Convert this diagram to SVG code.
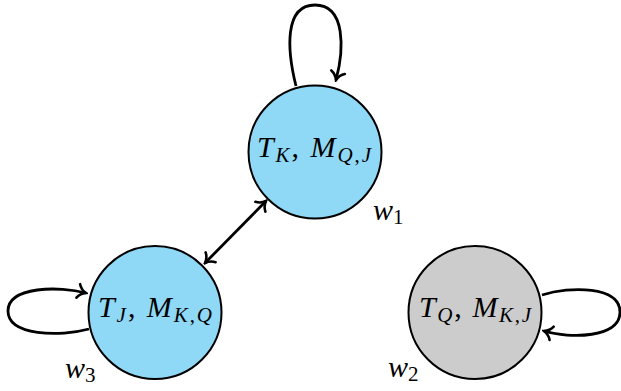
<svg xmlns="http://www.w3.org/2000/svg" width="621" height="391" viewBox="0 0 621 391">
<defs>
<style>
.node{stroke:#000;stroke-width:2}
.blue{fill:#8fd8f6}
.gray{fill:#cccccc}
.edge{fill:none;stroke:#000;stroke-width:2.8}
.lbl{font-family:"Liberation Serif","Times New Roman",serif;font-style:italic;font-size:30px;fill:#000}
.sub{font-size:21px}
.up{font-style:normal}
</style>
<marker id="arr" viewBox="-12 -9 14 18" markerWidth="14" markerHeight="18" refX="0" refY="0" orient="auto-start-reverse" markerUnits="userSpaceOnUse">
<path d="M-8,-7 C-6,-3 -2.5,-0.9 0,0 C-2.5,0.9 -6,3 -8,7" fill="none" stroke="#000" stroke-width="2.6" stroke-linecap="round"/>
</marker>
</defs>
<rect width="621" height="391" fill="#fff"/>
<g id="connectors">
<path class="edge" d="M296,86 C287,50 284,5 315,5 C346,5 344,50 336,80" marker-end="url(#arr)"/>
<path class="edge" d="M89,329 C60,337 8,336 8,311 C8,286 60,286 86,293" marker-end="url(#arr)"/>
<path class="edge" d="M542,295 C570,286 620,286 620,312 C620,338 570,339 544,331" marker-end="url(#arr)"/>
<path class="edge" d="M266,201 L205,263" marker-start="url(#arr)" marker-end="url(#arr)"/>
</g>
<g id="w1">
<circle class="node blue" cx="315" cy="152" r="66.5"/>
<text class="lbl" x="257" y="157" textLength="114" lengthAdjust="spacing">T<tspan class="sub" dy="5">K</tspan><tspan class="up" dy="-5">, </tspan>M<tspan class="sub" dy="5">Q<tspan class="up">,</tspan>J</tspan></text>
<text class="lbl" x="373" y="220">w<tspan class="sub up" dy="4">1</tspan></text>
</g>
<g id="w3">
<circle class="node blue" cx="155" cy="312.5" r="66.5"/>
<text class="lbl" x="98" y="317" textLength="114" lengthAdjust="spacing">T<tspan class="sub" dy="5">J</tspan><tspan class="up" dy="-5">, </tspan>M<tspan class="sub" dy="5">K<tspan class="up">,</tspan>Q</tspan></text>
<text class="lbl" x="65" y="378">w<tspan class="sub up" dy="4">3</tspan></text>
</g>
<g id="w2">
<circle class="node gray" cx="475" cy="312.5" r="66.5"/>
<text class="lbl" x="419" y="317" textLength="112" lengthAdjust="spacing">T<tspan class="sub" dy="5">Q</tspan><tspan class="up" dy="-5">, </tspan>M<tspan class="sub" dy="5">K<tspan class="up">,</tspan>J</tspan></text>
<text class="lbl" x="388" y="377">w<tspan class="sub up" dy="4">2</tspan></text>
</g>
</svg>
